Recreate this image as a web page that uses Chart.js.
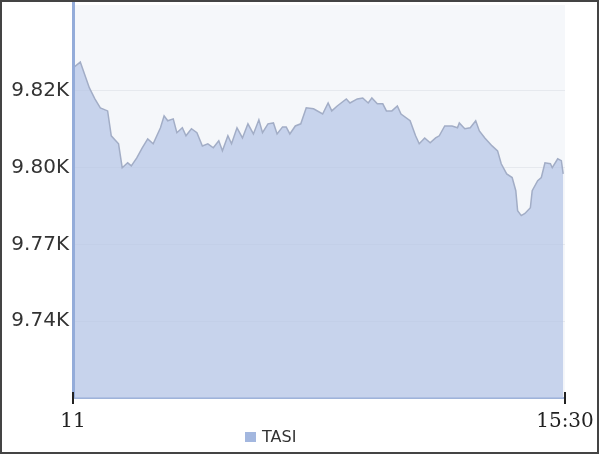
<!DOCTYPE html>
<html>
<head>
<meta charset="utf-8">
<script src="https://cdn.jsdelivr.net/npm/chart.js@4.4.1/dist/chart.umd.min.js"></script>
<style>
  html, body { margin:0; padding:0; background:#fff; }
  #wrap { width:600px; height:455px; }
</style>
</head>
<body>
<div id="wrap"><canvas id="TasiChart" width="600" height="455"></canvas></div>
<script>
// minutes after 11:00
var minutes = [0,4,9,12,15,19,21,25,27,30,32,35,38,41,44,48,50,52,55,57,60,62,65,68,71,74,77,80,82,85,
  87,90,93,96,99,102,104,107,110,112,115,117,119,122,125,128,132,137,140,142,145,150,152,156,159,162,164,167,170,172,
  175,178,180,185,188,190,193,196,199,201,204,208,211,212,215,218,221,223,226,230,233,235,238,241,243,244,246,248,251,252,
  255,257,259,262,263,266,268,269];
var tasi = [9827.5,9829.4,9821.0,9817.4,9814.5,9813.5,9805.4,9802.8,9795.0,9796.6,9795.6,9798.2,9801.5,9804.4,9802.8,9808.0,9811.9,9810.3,9810.9,9806.4,
  9808.0,9805.4,9807.7,9806.4,9802.1,9802.8,9801.5,9803.8,9800.5,9805.4,9802.8,9808.0,9804.7,9809.3,9806.0,9810.6,9806.4,9809.3,9809.6,9806.0,
  9808.3,9808.3,9806.0,9808.6,9809.3,9814.5,9814.2,9812.5,9816.1,9813.5,9815.1,9817.4,9816.1,9817.4,9817.7,9816.1,9817.7,9815.8,9815.8,9813.5,
  9813.5,9815.1,9812.5,9810.3,9805.4,9802.8,9804.7,9803.1,9804.7,9805.4,9808.6,9808.6,9808.0,9809.6,9807.7,9808.0,9810.3,9807.0,9804.7,9802.1,
  9800.5,9796.3,9793.0,9791.8,9787.5,9781.0,9779.4,9780.1,9782.0,9787.5,9790.8,9791.8,9796.6,9796.3,9795.0,9797.9,9797.3,9793.0];

var xTicks = [0, 270];
var xLabels = ['11', '15:30'];
var yTicks = [9745, 9770, 9795, 9820];
var yLabels = ['9.74K', '9.77K', '9.80K', '9.82K'];

var points = minutes.map(function(m, i){ return {x: m, y: tasi[i]}; });

// plot background, frame and legend
var decor = {
  id: 'decor',
  beforeDraw: function(chart){
    var ctx = chart.ctx, a = chart.chartArea;
    ctx.save();
    ctx.fillStyle = '#f5f7fa';
    ctx.fillRect(a.left, a.top, a.right - a.left, a.bottom - a.top);
    ctx.restore();
  },
  afterDraw: function(chart){
    var ctx = chart.ctx, a = chart.chartArea;
    ctx.save();
    // left blue bar up to the top
    ctx.fillStyle = '#94acd9';
    ctx.fillRect(72, 0, 3, a.bottom);
    // tick marks crossing the bottom axis
    ctx.fillStyle = '#222';
    ctx.fillRect(a.left - 1, a.bottom - 6, 2, 12);
    ctx.fillRect(a.right - 1, a.bottom - 6, 2, 12);
    // legend
    var ds = chart.data.datasets[0];
    ctx.fillStyle = '#a3b7df';
    ctx.fillRect(245, 432, 11, 10);
    ctx.fillStyle = '#333';
    ctx.font = '16px "DejaVu Sans"';
    ctx.textBaseline = 'middle';
    ctx.fillText(ds.label, 262, 438);
    // outer frame
    ctx.strokeStyle = '#444';
    ctx.lineWidth = 2;
    ctx.strokeRect(1, 1, 597, 452);
    ctx.restore();
  }
};

window.onload = function(){
  new Chart(document.getElementById('TasiChart').getContext('2d'), {
    type: 'line',
    data: {
      datasets: [{
        label: 'TASI',
        data: points,
        borderColor: '#a2adc6',
        borderWidth: 1.5,
        backgroundColor: 'rgba(181,197,230,0.72)',
        fill: 'start',
        pointRadius: 0,
        tension: 0
      }]
    },
    options: {
      responsive: false,
      animation: false,
      layout: {padding: {left: 0, right: 35, top: 5, bottom: 0}},
      plugins: {legend: {display: false}, tooltip: {enabled: false}},
      scales: {
        x: {
          type: 'linear',
          min: 0, max: 270,
          afterBuildTicks: function(s){ s.ticks = xTicks.map(function(v){ return {value: v}; }); },
          afterFit: function(s){ s.height = 57; s.paddingLeft = 0; s.paddingRight = 0; },
          ticks: {
            autoSkip: false, maxRotation: 0, padding: 6,
            color: '#222', font: {family: '"DejaVu Serif"', size: 20},
            callback: function(v){ return xLabels[xTicks.indexOf(v)]; }
          },
          grid: {drawOnChartArea: false, tickLength: 6, tickWidth: 0, color: '#222'},
          border: {color: '#9fb3d9', width: 2}
        },
        y: {
          min: 9720, max: 9848,
          afterBuildTicks: function(s){ s.ticks = yTicks.map(function(v){ return {value: v}; }); },
          afterFit: function(s){ s.width = 73; s.paddingTop = 0; s.paddingBottom = 0; },
          ticks: {
            padding: 4, color: '#333', font: {family: '"DejaVu Sans"', size: 20},
            callback: function(v){ return yLabels[yTicks.indexOf(v)]; }
          },
          grid: {color: '#e6e9ee', drawTicks: false},
          border: {display: false}
        }
      }
    },
    plugins: [decor]
  });
};
</script>
</body>
</html>
